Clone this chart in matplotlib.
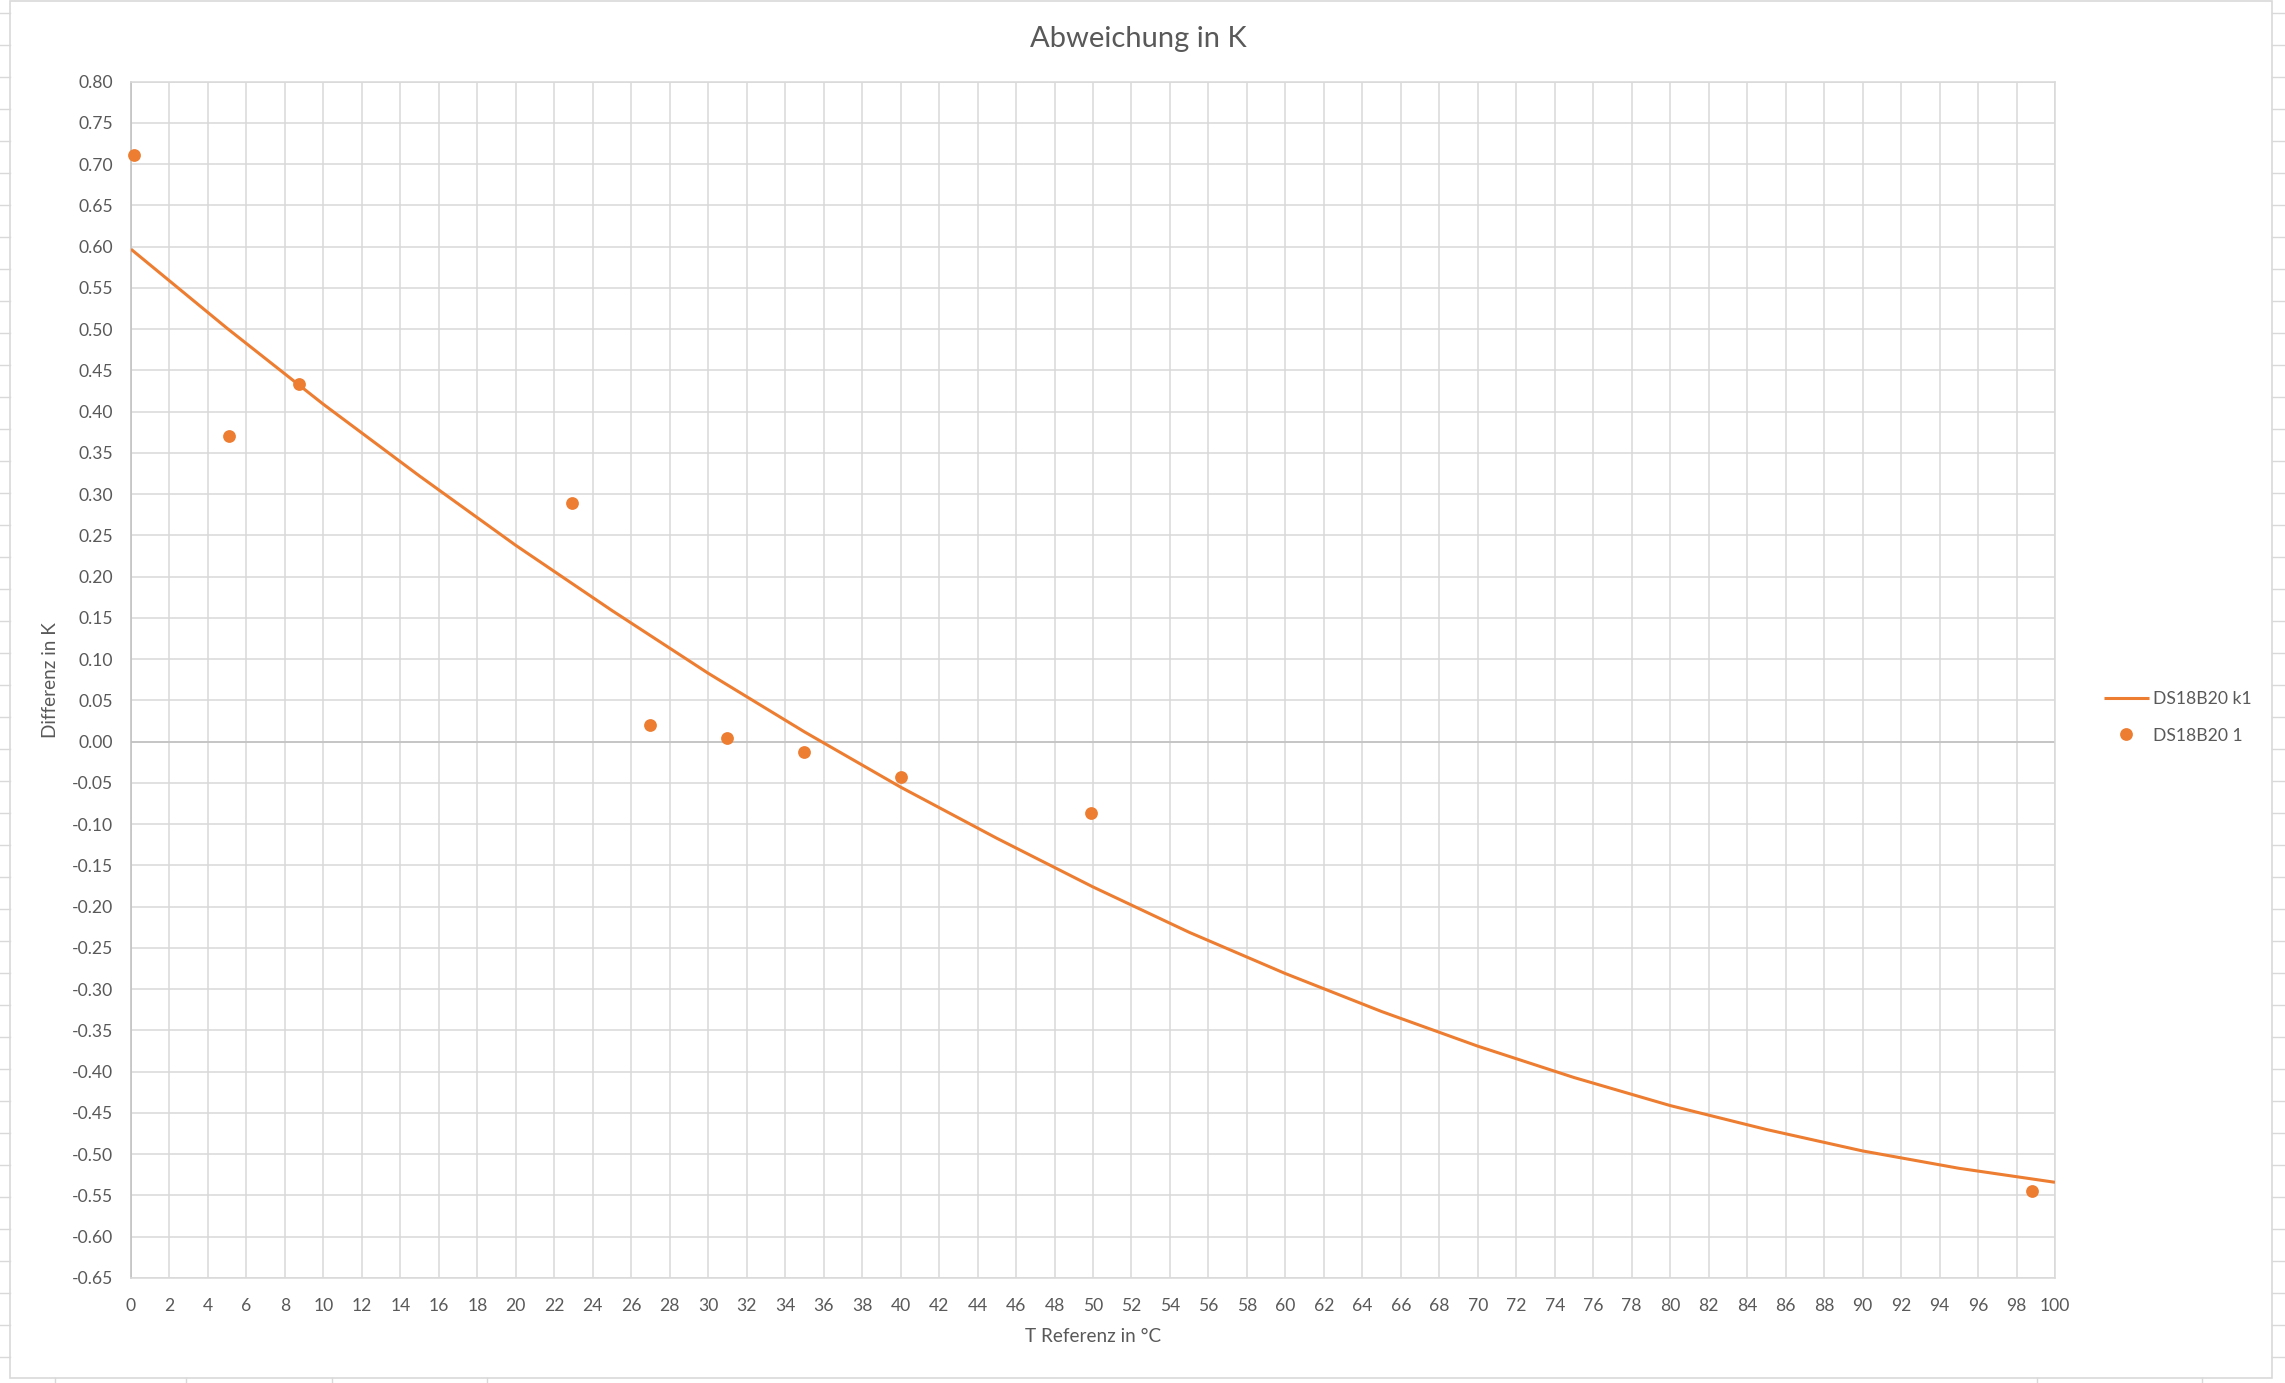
import matplotlib
matplotlib.use("Agg")
import matplotlib.pyplot as plt
from matplotlib.lines import Line2D
from matplotlib.patches import Rectangle

# ---------------- data ----------------
title = "Abweichung in K"
x_label = "T Referenz in °C"
y_label = "Differenz in K"
series_fit_name = "DS18B20 k1"
series_meas_name = "DS18B20 1"

# fitted correction curve
x_fit = [0, 5, 10, 15, 20, 25, 30, 35, 40, 45, 50,
         55, 60, 65, 70, 75, 80, 85, 90, 95, 100]
y_fit = [0.597, 0.501, 0.409, 0.322, 0.238, 0.159, 0.083, 0.012, -0.055, -0.117, -0.176,
         -0.231, -0.281, -0.327, -0.369, -0.407, -0.441, -0.470, -0.496, -0.517, -0.534]

# measured points
x_meas = [0.17, 5.1, 8.75, 22.9, 27.0, 31.0, 35.0, 40.0, 49.9, 98.8]
y_meas = [0.711, 0.370, 0.434, 0.289, 0.020, 0.005, -0.012, -0.043, -0.086, -0.545]

x_ticks = list(range(0, 101, 2))
y_ticks = [round(-0.65 + 0.05 * i, 2) for i in range(30)]
y_tick_labels = [f"{v:.2f}" for v in y_ticks]

# ---------------- style ----------------
ORANGE = "#ED7D31"
GRID = "#D9D9D9"
AXIS = "#BFBFBF"
TEXT = "#595959"
FONT = ["Lato", "DejaVu Sans"]
plt.rcParams["font.family"] = FONT

W, H = 2285, 1383
fig = plt.figure(figsize=(W / 100, H / 100), dpi=100)
fig.patch.set_facecolor("white")

def fx(px):
    return px / W

def fy(py):
    return 1 - py / H

# spreadsheet background lines outside the chart object
for yy in range(13, H, 32):
    fig.add_artist(Line2D([fx(0), fx(10)], [fy(yy), fy(yy)], color=GRID, lw=1.0))
    fig.add_artist(Line2D([fx(2272), fx(W)], [fy(yy), fy(yy)], color=GRID, lw=1.0))
for xx in [55, 186, 332, 487, 2037, 2202]:
    fig.add_artist(Line2D([fx(xx), fx(xx)], [fy(1378), fy(H)], color=GRID, lw=1.0))

# chart border
fig.add_artist(Rectangle((fx(10), fy(1378)), fx(2272) - fx(10), fy(1) - fy(1378),
                         transform=fig.transFigure, fill=False, edgecolor=GRID, lw=1.2))

left, right, top, bottom = 131, 2055, 81.7, 1278
ax = fig.add_axes([fx(left), fy(bottom), fx(right) - fx(left), fy(top) - fy(bottom)])

ax.plot(x_fit, y_fit, color=ORANGE, lw=2.2, zorder=3, label=series_fit_name,
        solid_capstyle="butt", solid_joinstyle="round")
ax.plot(x_meas, y_meas, linestyle="none", marker="o", markersize=9.2,
        color=ORANGE, markeredgewidth=0, zorder=4, label=series_meas_name, clip_on=False)

ax.set_xlim(0, 100)
ax.set_ylim(-0.65, 0.80)
ax.set_xticks(x_ticks)
ax.set_xticklabels([str(v) for v in x_ticks])
ax.set_yticks(y_ticks)
ax.set_yticklabels(y_tick_labels)
ax.tick_params(axis="both", length=0, labelsize=12.6, colors=TEXT)
ax.tick_params(axis="x", pad=14.5)
ax.tick_params(axis="y", pad=13)

ax.grid(True, color=GRID, lw=1.1, zorder=0)
ax.set_axisbelow(True)
for s in ["top", "right", "bottom"]:
    ax.spines[s].set_color(GRID)
    ax.spines[s].set_linewidth(1.1)
ax.spines["left"].set_color(AXIS)
ax.spines["left"].set_linewidth(1.1)
ax.axhline(0, color=AXIS, lw=1.1, zorder=1)

fig.text(fx(1138), fy(39), title, ha="center", va="center", fontsize=21, color=TEXT)
fig.text(fx(1093), fy(1337), x_label, ha="center", va="center", fontsize=13.6, color=TEXT)
fig.text(fx(51), fy(680), y_label, ha="center", va="center", rotation=90,
         fontsize=13.6, color=TEXT)

leg = ax.legend(loc="center left", bbox_to_anchor=(fx(2104), fy(717.5)),
                bbox_transform=fig.transFigure, frameon=False, fontsize=12.6,
                handlelength=2.56, handletextpad=0.25, borderpad=0, borderaxespad=0,
                labelspacing=1.15)
for t in leg.get_texts():
    t.set_color(TEXT)

fig.savefig("out.png", dpi=100, facecolor="white")
